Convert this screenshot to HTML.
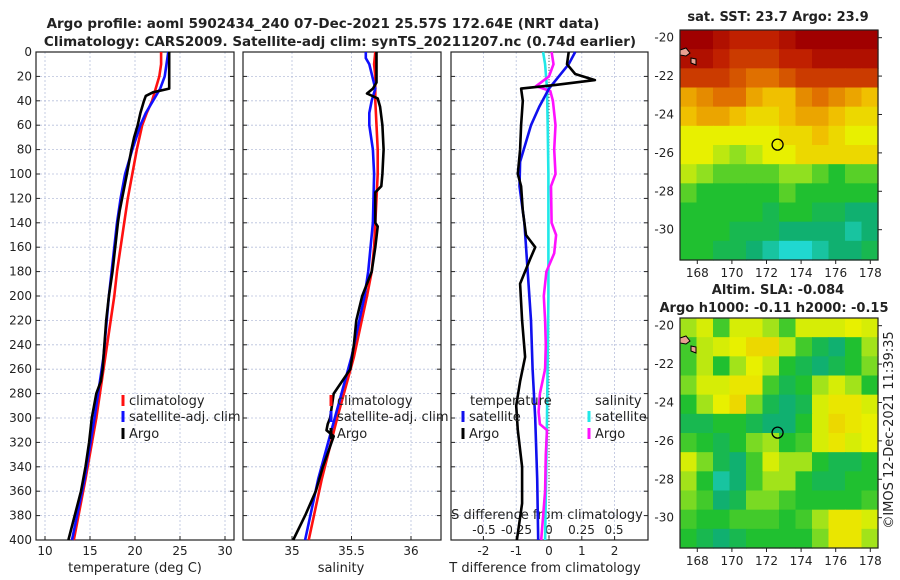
<!DOCTYPE html>
<html><head><meta charset="utf-8">
<style>
html,body{margin:0;padding:0;background:#fff;}
svg{display:block;font-family:"DejaVu Sans","Liberation Sans",sans-serif;}
text{fill:#222;}
</style></head>
<body>
<svg id="fig" width="900" height="580" viewBox="0 0 900 580" xmlns="http://www.w3.org/2000/svg">
<rect width="900" height="580" fill="#fff"/>
<text x="323" y="28" text-anchor="middle" font-size="13.5" font-weight="bold">Argo profile: aoml 5902434_240 07-Dec-2021 25.57S 172.64E (NRT data)</text>
<text x="340" y="46" text-anchor="middle" font-size="13.5" font-weight="bold">Climatology: CARS2009. Satellite-adj clim: synTS_20211207.nc (0.74d earlier)</text>
<text x="778" y="21" text-anchor="middle" font-size="13" font-weight="bold">sat. SST: 23.7 Argo: 23.9</text>
<text x="778" y="294" text-anchor="middle" font-size="13" font-weight="bold">Altim. SLA: -0.084</text>
<text x="774" y="312" text-anchor="middle" font-size="13" font-weight="bold">Argo h1000: -0.11 h2000: -0.15</text>
<text transform="translate(893,430) rotate(-90)" text-anchor="middle" font-size="13">©IMOS 12-Dec-2021 11:39:35</text>
<g id="g"></g>
</svg>
<script>
// ---- data ----
const depthTicks=[0,20,40,60,80,100,120,140,160,180,200,220,240,260,280,300,320,340,360,380,400];
const tTicks=[10,15,20,25,30];
const sTicks=[35,35.5,36];
const dTTicks=[-2,-1,0,1,2];
const dSTicks=[-0.5,-0.25,0,0.25,0.5];
const dSTickLabels=["-0.5","-0.25","0","0.25","0.5"];
const tClimDepth=[0,10,20,30,40,50,60,80,100,120,140,160,180,200,250,300,350,400];
const tClimVal=[22.9,22.9,22.7,22.3,21.9,21.3,20.8,20.2,19.7,19.2,18.8,18.4,18.0,17.7,16.7,15.7,14.5,13.2];
const tSatDepth=[0,20,30,40,50,60,80,100,120,140,160,180,200,250,300,350,400];
const tSatVal=[23.7,23.3,22.8,22.0,21.2,20.6,19.7,18.9,18.4,18.0,17.7,17.4,17.1,16.5,15.5,14.4,13.0];
const tArgoDepth=[0,10,20,30,33,36,40,50,60,70,80,100,130,140,160,180,200,220,240,260,270,280,300,320,340,360,380,400];
const tArgoVal=[23.8,23.8,23.8,23.8,22.0,21.2,21.0,20.6,20.3,19.9,19.6,19.1,18.3,18.1,17.8,17.5,17.1,16.8,16.6,16.4,16.2,15.7,15.2,14.9,14.5,14.0,13.3,12.6];
const sClimDepth=[0,10,20,40,60,80,100,120,140,160,180,200,250,300,350,400];
const sClimVal=[35.70,35.69,35.70,35.70,35.71,35.72,35.72,35.71,35.70,35.69,35.67,35.63,35.52,35.38,35.25,35.14];
const sSatDepth=[0,5,10,30,40,50,60,80,100,140,180,200,250,300,350,400];
const sSatVal=[35.62,35.62,35.65,35.70,35.67,35.65,35.65,35.68,35.69,35.68,35.64,35.61,35.50,35.36,35.22,35.11];
const sArgoDepth=[0,25,30,34,38,45,60,80,100,110,115,140,143,160,180,200,220,240,260,280,300,305,310,315,340,360,380,400];
const sArgoVal=[35.71,35.71,35.68,35.63,35.72,35.74,35.76,35.77,35.76,35.75,35.70,35.70,35.72,35.70,35.67,35.59,35.54,35.52,35.49,35.35,35.32,35.30,35.29,35.35,35.26,35.20,35.11,35.01];
const dTSatDepth=[0,10,20,30,45,60,90,110,140,180,220,260,300,350,400];
const dTSatVal=[0.8,0.6,0.3,0.0,-0.3,-0.55,-0.88,-0.9,-0.75,-0.65,-0.55,-0.5,-0.42,-0.36,-0.33];
const dTArgoDepth=[0,10,18,23,27,30,40,60,80,100,110,130,150,160,170,190,220,250,270,290,310,340,370,400];
const dTArgoVal=[0.6,0.55,0.8,1.4,0.2,-0.85,-0.8,-0.85,-0.88,-0.95,-0.85,-0.8,-0.7,-0.42,-0.58,-0.88,-0.82,-0.73,-0.88,-1.0,-0.95,-0.82,-0.82,-0.98];
const dSSatDepth=[0,10,30,60,100,200,300,400];
const dSSatVal=[-0.045,-0.03,-0.015,-0.01,-0.005,-0.005,-0.015,-0.03];
const dSArgoDepth=[0,10,20,28,32,40,60,80,100,110,140,150,165,180,200,220,240,260,280,295,305,310,330,360,400];
const dSArgoVal=[0.02,0.035,0.0,-0.1,0.01,0.03,0.05,0.04,0.05,0.015,0.02,0.055,0.04,-0.02,-0.04,-0.03,-0.025,-0.03,-0.07,-0.08,-0.07,-0.015,-0.025,-0.03,-0.06];
const lonTicks=[168,170,172,174,176,178];
const latTicks=[-20,-22,-24,-26,-28,-30];
const argoLon=172.64, argoLat=-25.57;
const sstGrid=[
[1,1,.95,.9,.9,.9,.95,1,1,1,1,1],
[.95,.95,.9,.85,.85,.85,.9,.9,.95,.95,.95,.95],
[.85,.85,.85,.8,.75,.75,.8,.85,.85,.85,.85,.85],
[.65,.7,.75,.75,.65,.6,.6,.7,.75,.7,.65,.6],
[.6,.65,.65,.6,.55,.55,.6,.65,.65,.6,.55,.55],
[.5,.5,.5,.5,.5,.5,.55,.55,.6,.55,.5,.5],
[.5,.5,.45,.4,.45,.5,.5,.55,.55,.55,.55,.55],
[.45,.4,.35,.35,.35,.35,.4,.4,.35,.3,.35,.35],
[.35,.3,.3,.3,.3,.3,.35,.3,.3,.3,.3,.3],
[.3,.3,.3,.3,.3,.25,.3,.3,.25,.25,.2,.2],
[.3,.3,.3,.25,.25,.25,.2,.2,.2,.2,.15,.2],
[.3,.3,.25,.25,.2,.15,.1,.1,.15,.2,.2,.25]];
const slaGrid=[
[.42,.48,.33,.48,.48,.42,.33,.48,.48,.48,.5,.48],
[.33,.45,.48,.5,.55,.55,.45,.33,.25,.2,.3,.42],
[.33,.45,.3,.42,.5,.45,.3,.25,.2,.25,.3,.38],
[.38,.48,.48,.52,.52,.33,.25,.3,.42,.48,.42,.3],
[.3,.42,.5,.55,.38,.25,.2,.25,.48,.52,.52,.48],
[.25,.25,.3,.3,.25,.2,.2,.3,.48,.55,.52,.5],
[.33,.3,.25,.3,.38,.42,.3,.33,.48,.52,.48,.5],
[.48,.38,.25,.2,.33,.48,.42,.42,.3,.25,.25,.3],
[.42,.3,.15,.2,.33,.42,.42,.3,.25,.25,.3,.3],
[.38,.33,.2,.25,.38,.38,.33,.3,.3,.3,.3,.33],
[.33,.3,.3,.33,.33,.33,.3,.33,.42,.52,.52,.48],
[.3,.25,.2,.25,.3,.3,.3,.3,.38,.52,.52,.42]];

const NS="http://www.w3.org/2000/svg";
const G=document.getElementById('g');
function mk(tag,attrs,parent){const e=document.createElementNS(NS,tag);for(const k in attrs)e.setAttribute(k,attrs[k]);(parent||G).appendChild(e);return e;}
const Y0=52,Y1=540;
const yD=d=>Y0+(d/400)*(Y1-Y0);
const xT=v=>45+9*(v-10);
const xS=v=>292+119*(v-35);
const xDT=v=>549+32.8*v;
const xDS=v=>549+130*v;

function gridAndFrame(x0,x1,xs,fx,name){
  const g=mk('g',{});
  
  
  xs.forEach(v=>{const x=fx(v);mk('line',{x1:x,x2:x,y1:Y0,y2:Y1,stroke:'#b8c0dc','stroke-width':0.8,'stroke-dasharray':'2,2'},g);});
  depthTicks.forEach(d=>{const y=yD(d);mk('line',{x1:x0,x2:x1,y1:y,y2:y,stroke:'#b8c0dc','stroke-width':0.8,'stroke-dasharray':'2,2'},g);
    mk('line',{x1:x0,x2:x0+4,y1:y,y2:y,stroke:'#222'},g);mk('line',{x1:x1-4,x2:x1,y1:y,y2:y,stroke:'#222'},g);});
  xs.forEach(v=>{const x=fx(v);mk('line',{x1:x,x2:x,y1:Y1,y2:Y1-4,stroke:'#222'},g);});
  const f=mk('rect',{x:x0,y:Y0,width:x1-x0,height:Y1-Y0,fill:'none',stroke:'#222','stroke-width':1.2});
  
  
}
function line(ds,vs,fx,color,name,w){
  const p=mk('polyline',{points:ds.map((d,i)=>fx(vs[i]).toFixed(1)+','+yD(d).toFixed(1)).join(' '),fill:'none',stroke:color,'stroke-width':w||2.6,'stroke-linejoin':'round'});
  
  
}
function txt(x,y,s,o){const t=mk('text',Object.assign({x:x,y:y,'font-size':12},o||{}));t.textContent=s;return t;}

gridAndFrame(36,234,tTicks,xT,'temperature-panel');
gridAndFrame(243,441,sTicks,xS,'salinity-panel');
gridAndFrame(451,648,dTTicks,xDT,'difference-panel');
depthTicks.forEach(d=>{const t=txt(32,yD(d)+4,String(d),{'text-anchor':'end',fill:'#333'});
  
  });
tTicks.forEach(v=>{const t=txt(xT(v),555,String(v),{'text-anchor':'middle'});
  
  });
sTicks.forEach(v=>{const t=txt(xS(v),555,String(v),{'text-anchor':'middle'});
  
  });
dTTicks.forEach(v=>{const t=txt(xDT(v),555,String(v),{'text-anchor':'middle'});
  
  });
dSTicks.forEach((v,i)=>{const t=txt(xDS(v),534,dSTickLabels[i],{'text-anchor':'middle'});
  
  });
let t;
t=txt(135,572,'temperature (deg C)',{'text-anchor':'middle','font-size':13});

t=txt(341,572,'salinity',{'text-anchor':'middle','font-size':13});

t=txt(545,572,'T difference from climatology',{'text-anchor':'middle','font-size':13});

t=txt(547,519,'S difference from climatology',{'text-anchor':'middle','font-size':13});


const z=mk('line',{x1:549,x2:549,y1:Y0,y2:Y1,stroke:'#555','stroke-width':1,'stroke-dasharray':'1,2'});


line(tClimDepth,tClimVal,xT,'#ff1010','temperature-climatology-line');
line(tSatDepth,tSatVal,xT,'#1010ff','temperature-satellite-line');
line(tArgoDepth,tArgoVal,xT,'#000','temperature-argo-line');
line(sClimDepth,sClimVal,xS,'#ff1010','salinity-climatology-line');
line(sSatDepth,sSatVal,xS,'#1010ff','salinity-satellite-line');
line(sArgoDepth,sArgoVal,xS,'#000','salinity-argo-line');
line(dSSatDepth,dSSatVal,xDS,'#20e8e8','s-diff-satellite-line');
line(dSArgoDepth,dSArgoVal,xDS,'#ff10ff','s-diff-argo-line');
line(dTSatDepth,dTSatVal,xDT,'#1010ee','t-diff-satellite-line');
line(dTArgoDepth,dTArgoVal,xDT,'#000','t-diff-argo-line');

function legend(mx,y,color,label,name){
  const r=mk('rect',{x:mx-1.5,y:y-10,width:3,height:11,fill:color});
  
  const tt=txt(mx+6,y,label,{'font-size':13});
  
}
legend(123,405,'#ff1010','climatology','legend-climatology');
legend(123,421,'#1010ff','satellite-adj. clim','legend-satellite-adj');
legend(123,438,'#000','Argo','legend-argo');
legend(331,405,'#ff1010','climatology','legend-s-climatology');
legend(331,421,'#1010ff','satellite-adj. clim','legend-s-satellite-adj');
legend(331,438,'#000','Argo','legend-s-argo');
t=txt(470,405,'temperature',{'font-size':13});
legend(463,421,'#1010ee','satellite','legend-t-satellite');
legend(463,438,'#000','Argo','legend-t-argo');
t=txt(595,405,'salinity',{'font-size':13});
legend(589,421,'#20e8e8','satellite','legend-s-satellite');
legend(589,438,'#ff10ff','Argo','legend-s-argo-diff');

const stops=[[0.1,[32,216,208]],[0.2,[16,176,112]],[0.3,[32,192,48]],[0.4,[144,224,32]],[0.5,[232,240,0]],[0.6,[240,192,0]],[0.75,[224,112,0]],[0.9,[192,32,0]],[1,[160,0,0]]];
function cmap(v){if(v<=stops[0][0])return 'rgb('+stops[0][1]+')';
  for(let i=1;i<stops.length;i++){if(v<=stops[i][0]){const a=stops[i-1],b=stops[i];const f=(v-a[0])/(b[0]-a[0]);
    return 'rgb('+a[1].map((c,k)=>Math.round(c+(b[1][k]-c)*f)).join(',')+')';}}
  return 'rgb('+stops[stops.length-1][1]+')';}
const MX0=680,MX1=878;
const xLon=v=>MX0+17.3*(v-167);
function drawMap(top,grid,name){
  const bot=top+230;
  const yLat=v=>top+19.2*(-19.6-v);
  const rows=grid.length,cols=grid[0].length;
  const cw=(MX1-MX0)/cols,ch=(bot-top)/rows;
  const g=mk('g',{});
  
  
  grid.forEach((row,r)=>row.forEach((v,c)=>{
    const cell=mk('rect',{x:(MX0+c*cw).toFixed(2),y:(top+r*ch).toFixed(2),width:(cw+0.6).toFixed(2),height:(ch+0.6).toFixed(2),fill:cmap(v)},g);
    
    
  }));
  const isl=mk('path',{d:`M${MX0} ${top+20} l6 -2 l4 5 l-4 3 l-6 -1 Z M${MX0+11} ${top+28} l5 1 l0 6 l-5 -2 Z`,fill:'#e8a090',stroke:'#000','stroke-width':1});
  
  const fr=mk('rect',{x:MX0,y:top,width:MX1-MX0,height:bot-top,fill:'none',stroke:'#222','stroke-width':1.2});
  
  const c=mk('circle',{cx:xLon(argoLon),cy:yLat(argoLat),r:5.5,fill:'none',stroke:'#000','stroke-width':1.3});
  
  latTicks.forEach(v=>{const y=yLat(v);mk('line',{x1:MX1,x2:MX1+4,y1:y,y2:y,stroke:'#222'});
    const tt=txt(674,y+4,String(v),{'text-anchor':'end',fill:'#333'});
    });
  lonTicks.forEach(v=>{const x=xLon(v);mk('line',{x1:x,x2:x,y1:bot,y2:bot+4,stroke:'#222'});
    const tt=txt(x,bot+17,String(v),{'text-anchor':'middle',fill:'#333'});
    });
}
drawMap(30,sstGrid,'sst-map');
drawMap(318,slaGrid,'sla-map');
</script>
</body></html>
